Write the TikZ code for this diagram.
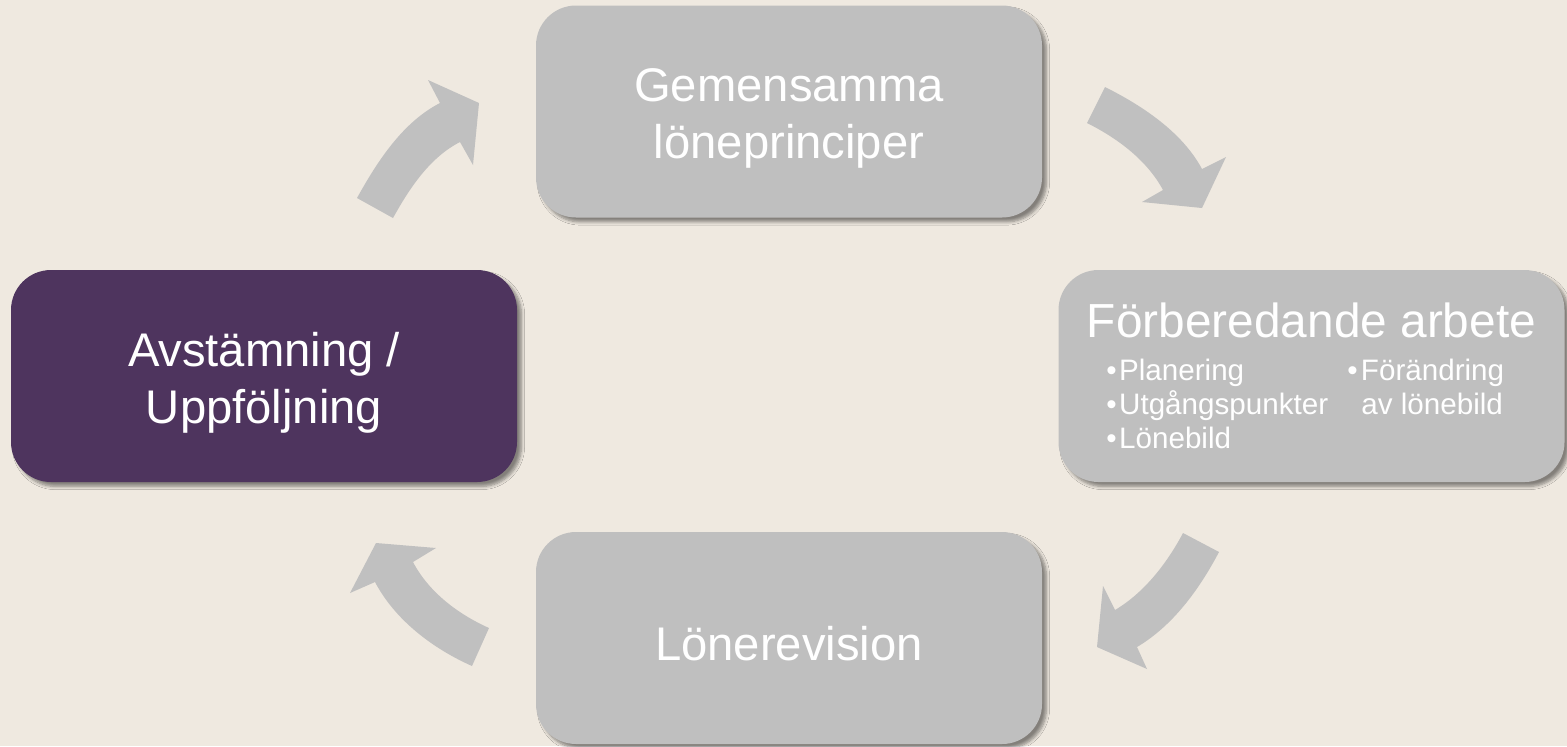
\documentclass[tikz,border=0pt]{standalone}
\usepackage{fontspec}
\setmainfont{Liberation Sans}
\usetikzlibrary{shadows.blur}
\definecolor{bgcol}{HTML}{EFE9E0}
\definecolor{boxgray}{HTML}{BFBFBF}
\definecolor{arrowgray}{HTML}{C0C0C0}
\definecolor{purplebox}{HTML}{4E345E}
\tikzset{
  stagebox/.style={rounded corners=20pt, minimum width=253pt, minimum height=106pt,
    inner sep=0pt,
    blur shadow={shadow xshift=2.2pt, shadow yshift=-2.2pt, shadow blur radius=1.6pt,
      shadow blur steps=6, shadow opacity=45}},
  graybox/.style={stagebox, fill=boxgray},
  purplestage/.style={stagebox, fill=purplebox},
  stagetext/.style={text=white, inner sep=0pt, align=center,
    font=\fontsize{23.6}{28.5}\selectfont},
  titletext/.style={text=white, inner sep=0pt, font=\fontsize{23.9}{28.5}\selectfont},
  bullettext/.style={text=white, inner sep=0pt, font=\fontsize{14.8}{17}\selectfont},
  cyclearrow/.style={fill=arrowgray, draw=none}
}
\begin{document}
\begin{tikzpicture}[x=0.5pt, y=-0.5pt]
\useasboundingbox (0,0) rectangle (1567,746);
\fill[bgcol] (0,0) rectangle (1567,746);

% boxes
\node[graybox] (top) at (789,111.5) {};
\node[purplestage] (left) at (264,376) {};
\node[graybox] (right) at (1311.5,376) {};
\node[graybox] (bottom) at (789,638) {};

% box texts
\node[stagetext] (toptext) at ([yshift=-3.3pt]top.center) {Gemensamma\\löneprinciper};
\node[stagetext] (lefttext) at ([yshift=-3.5pt]left.center) {Avstämning /\\Uppföljning};
\node[stagetext] (bottomtext) at ([yshift=-2.8pt]bottom.center) {Lönerevision};

% right box content
\node[titletext, anchor=base] (rtitle) at (1311.5,337) {Förberedande arbete};
\node[bullettext, anchor=base west] (b1) at (1106,380) {•\kern1.2pt Planering};
\node[bullettext, anchor=base west] (b2) at (1106,414) {•\kern1.2pt Utgångspunkter};
\node[bullettext, anchor=base west] (b3) at (1106,448) {•\kern1.2pt Lönebild};
\node[bullettext, anchor=base west] (b4) at (1347,380) {•\kern1.6pt Förändring};
\node[bullettext, anchor=base west] (b5) at (1361,414) {av lönebild};

% curved block arrows
\path[cyclearrow] (357,198) .. controls (377.4,161.3) and (402.6,122.2) .. (440,103)
  -- (428,80) -- (479,103) -- (473,165) -- (460,142)
  .. controls (429.7,157.5) and (409.5,188.3) .. (393,218) -- cycle;
\path[cyclearrow] (1105,87) .. controls (1142.5,105.8) and (1182.1,132) .. (1202,169)
  -- (1226,157) -- (1202,208) -- (1142,202) -- (1163,190)
  .. controls (1146.9,160.1) and (1117.4,138.2) .. (1087,123) -- cycle;
\path[cyclearrow] (1219,552) .. controls (1199.4,589.1) and (1173.1,625.6) .. (1137,647)
  -- (1147,669) -- (1097,647) -- (1103,586) -- (1115,610)
  .. controls (1144.2,592.7) and (1167.1,563.1) .. (1183,533) -- cycle;
\path[cyclearrow] (472,666) .. controls (432.7,648.5) and (395,620) .. (375,582)
  -- (350,593) -- (376,543) -- (436,548) -- (413,562)
  .. controls (428.8,592.1) and (458,614.1) .. (489,628) -- cycle;
\end{tikzpicture}
\end{document}
